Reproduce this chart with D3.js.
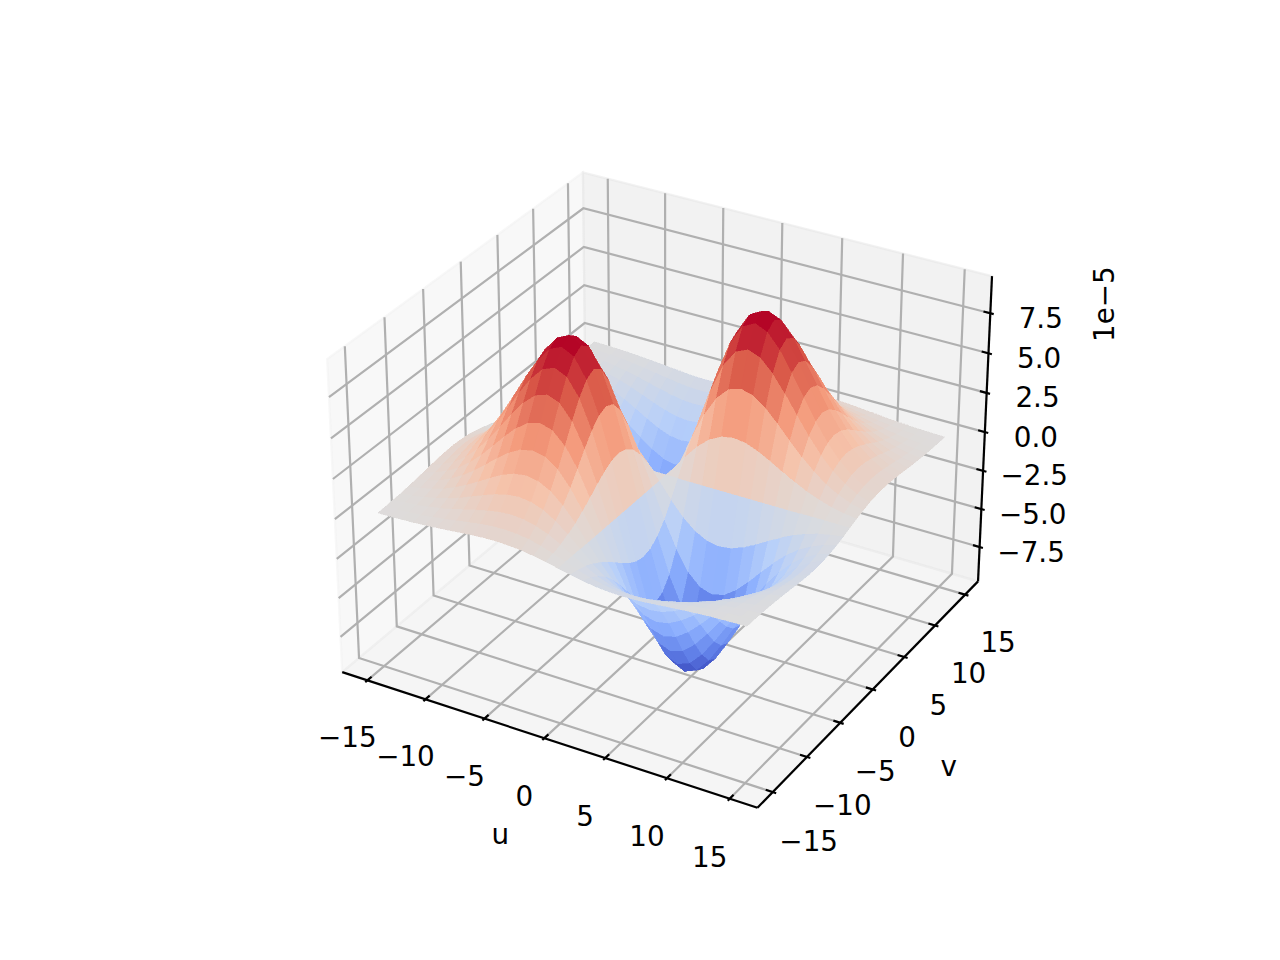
<!DOCTYPE html>
<html>
<head>
<meta charset="utf-8">
<script src="https://cdn.jsdelivr.net/npm/d3@7"></script>
<style>
  html, body { margin: 0; background: #fff; }
  text { font-family: "DejaVu Sans"; font-size: 27.8px; fill: #000; }
</style>
</head>
<body>
<div id="container"></div>
<script>
// grid of the surface
const uValues = [-15,-14,-13,-12,-11,-10,-9,-8,-7,-6,-5,-4,-3,-2,-1,0,1,2,3,4,5,6,7,8,9,10,11,12,13,14,15];
const vValues = [-15,-14,-13,-12,-11,-10,-9,-8,-7,-6,-5,-4,-3,-2,-1,0,1,2,3,4,5,6,7,8,9,10,11,12,13,14,15];

// surface height in units of 1e-5, one row per v, one column per u
const zValues = [
[.03,.05,.08,.11,.17,.23,.30,.38,.45,.50,.52,.49,.43,.31,.17,0,-.17,-.31,-.43,-.49,-.52,-.50,-.45,-.38,-.30,-.23,-.17,-.11,-.08,-.05,-.03],
[.05,.08,.13,.19,.28,.38,.51,.63,.75,.83,.86,.82,.71,.52,.28,0,-.28,-.52,-.71,-.82,-.86,-.83,-.75,-.63,-.51,-.38,-.28,-.19,-.13,-.08,-.05],
[.08,.13,.20,.31,.44,.61,.81,1.01,1.19,1.32,1.37,1.31,1.13,.84,.44,0,-.44,-.84,-1.13,-1.31,-1.37,-1.32,-1.19,-1.01,-.81,-.61,-.44,-.31,-.20,-.13,-.08],
[.11,.19,.31,.46,.67,.93,1.23,1.53,1.81,2.01,2.09,2.00,1.73,1.27,.68,0,-.68,-1.27,-1.73,-2.00,-2.09,-2.01,-1.81,-1.53,-1.23,-.93,-.67,-.46,-.31,-.19,-.11],
[.17,.28,.44,.67,.98,1.35,1.78,2.22,2.63,2.92,3.03,2.90,2.51,1.85,.98,0,-.98,-1.85,-2.51,-2.90,-3.03,-2.92,-2.63,-2.22,-1.78,-1.35,-.98,-.67,-.44,-.28,-.17],
[.23,.38,.61,.93,1.35,1.87,2.46,3.08,3.63,4.04,4.20,4.02,3.47,2.55,1.36,0,-1.36,-2.55,-3.47,-4.02,-4.20,-4.04,-3.63,-3.08,-2.46,-1.87,-1.35,-.93,-.61,-.38,-.23],
[.30,.51,.81,1.23,1.78,2.46,3.24,4.05,4.78,5.32,5.52,5.29,4.56,3.36,1.78,0,-1.78,-3.36,-4.56,-5.29,-5.52,-5.32,-4.78,-4.05,-3.24,-2.46,-1.78,-1.23,-.81,-.51,-.30],
[.38,.63,1.01,1.53,2.22,3.08,4.05,5.06,5.97,6.64,6.89,6.60,5.70,4.20,2.23,0,-2.23,-4.20,-5.70,-6.60,-6.89,-6.64,-5.97,-5.06,-4.05,-3.08,-2.22,-1.53,-1.01,-.63,-.38],
[.45,.75,1.19,1.81,2.63,3.63,4.78,5.97,7.05,7.84,8.14,7.80,6.73,4.96,2.63,0,-2.63,-4.96,-6.73,-7.80,-8.14,-7.84,-7.05,-5.97,-4.78,-3.63,-2.63,-1.81,-1.19,-.75,-.45],
[.50,.83,1.32,2.01,2.92,4.04,5.32,6.64,7.84,8.72,9.05,8.67,7.48,5.51,2.93,0,-2.93,-5.51,-7.48,-8.67,-9.05,-8.72,-7.84,-6.64,-5.32,-4.04,-2.92,-2.01,-1.32,-.83,-.50],
[.52,.86,1.37,2.09,3.03,4.20,5.52,6.89,8.14,9.05,9.40,9.00,7.77,5.72,3.04,0,-3.04,-5.72,-7.77,-9.00,-9.40,-9.05,-8.14,-6.89,-5.52,-4.20,-3.03,-2.09,-1.37,-.86,-.52],
[.49,.82,1.31,2.00,2.90,4.02,5.29,6.60,7.80,8.67,9.00,8.62,7.44,5.48,2.91,0,-2.91,-5.48,-7.44,-8.62,-9.00,-8.67,-7.80,-6.60,-5.29,-4.02,-2.90,-2.00,-1.31,-.82,-.49],
[.43,.71,1.13,1.73,2.51,3.47,4.56,5.70,6.73,7.48,7.77,7.44,6.42,4.73,2.51,0,-2.51,-4.73,-6.42,-7.44,-7.77,-7.48,-6.73,-5.70,-4.56,-3.47,-2.51,-1.73,-1.13,-.71,-.43],
[.31,.52,.84,1.27,1.85,2.55,3.36,4.20,4.96,5.51,5.72,5.48,4.73,3.48,1.85,0,-1.85,-3.48,-4.73,-5.48,-5.72,-5.51,-4.96,-4.20,-3.36,-2.55,-1.85,-1.27,-.84,-.52,-.31],
[.17,.28,.44,.68,.98,1.36,1.78,2.23,2.63,2.93,3.04,2.91,2.51,1.85,.98,0,-.98,-1.85,-2.51,-2.91,-3.04,-2.93,-2.63,-2.23,-1.78,-1.36,-.98,-.68,-.44,-.28,-.17],
[0,0,0,0,0,0,0,0,0,0,0,0,0,0,0,0,0,0,0,0,0,0,0,0,0,0,0,0,0,0,0],
[-.17,-.28,-.44,-.68,-.98,-1.36,-1.78,-2.23,-2.63,-2.93,-3.04,-2.91,-2.51,-1.85,-.98,0,.98,1.85,2.51,2.91,3.04,2.93,2.63,2.23,1.78,1.36,.98,.68,.44,.28,.17],
[-.31,-.52,-.84,-1.27,-1.85,-2.55,-3.36,-4.20,-4.96,-5.51,-5.72,-5.48,-4.73,-3.48,-1.85,0,1.85,3.48,4.73,5.48,5.72,5.51,4.96,4.20,3.36,2.55,1.85,1.27,.84,.52,.31],
[-.43,-.71,-1.13,-1.73,-2.51,-3.47,-4.56,-5.70,-6.73,-7.48,-7.77,-7.44,-6.42,-4.73,-2.51,0,2.51,4.73,6.42,7.44,7.77,7.48,6.73,5.70,4.56,3.47,2.51,1.73,1.13,.71,.43],
[-.49,-.82,-1.31,-2.00,-2.90,-4.02,-5.29,-6.60,-7.80,-8.67,-9.00,-8.62,-7.44,-5.48,-2.91,0,2.91,5.48,7.44,8.62,9.00,8.67,7.80,6.60,5.29,4.02,2.90,2.00,1.31,.82,.49],
[-.52,-.86,-1.37,-2.09,-3.03,-4.20,-5.52,-6.89,-8.14,-9.05,-9.40,-9.00,-7.77,-5.72,-3.04,0,3.04,5.72,7.77,9.00,9.40,9.05,8.14,6.89,5.52,4.20,3.03,2.09,1.37,.86,.52],
[-.50,-.83,-1.32,-2.01,-2.92,-4.04,-5.32,-6.64,-7.84,-8.72,-9.05,-8.67,-7.48,-5.51,-2.93,0,2.93,5.51,7.48,8.67,9.05,8.72,7.84,6.64,5.32,4.04,2.92,2.01,1.32,.83,.50],
[-.45,-.75,-1.19,-1.81,-2.63,-3.63,-4.78,-5.97,-7.05,-7.84,-8.14,-7.80,-6.73,-4.96,-2.63,0,2.63,4.96,6.73,7.80,8.14,7.84,7.05,5.97,4.78,3.63,2.63,1.81,1.19,.75,.45],
[-.38,-.63,-1.01,-1.53,-2.22,-3.08,-4.05,-5.06,-5.97,-6.64,-6.89,-6.60,-5.70,-4.20,-2.23,0,2.23,4.20,5.70,6.60,6.89,6.64,5.97,5.06,4.05,3.08,2.22,1.53,1.01,.63,.38],
[-.30,-.51,-.81,-1.23,-1.78,-2.46,-3.24,-4.05,-4.78,-5.32,-5.52,-5.29,-4.56,-3.36,-1.78,0,1.78,3.36,4.56,5.29,5.52,5.32,4.78,4.05,3.24,2.46,1.78,1.23,.81,.51,.30],
[-.23,-.38,-.61,-.93,-1.35,-1.87,-2.46,-3.08,-3.63,-4.04,-4.20,-4.02,-3.47,-2.55,-1.36,0,1.36,2.55,3.47,4.02,4.20,4.04,3.63,3.08,2.46,1.87,1.35,.93,.61,.38,.23],
[-.17,-.28,-.44,-.67,-.98,-1.35,-1.78,-2.22,-2.63,-2.92,-3.03,-2.90,-2.51,-1.85,-.98,0,.98,1.85,2.51,2.90,3.03,2.92,2.63,2.22,1.78,1.35,.98,.67,.44,.28,.17],
[-.11,-.19,-.31,-.46,-.67,-.93,-1.23,-1.53,-1.81,-2.01,-2.09,-2.00,-1.73,-1.27,-.68,0,.68,1.27,1.73,2.00,2.09,2.01,1.81,1.53,1.23,.93,.67,.46,.31,.19,.11],
[-.08,-.13,-.20,-.31,-.44,-.61,-.81,-1.01,-1.19,-1.32,-1.37,-1.31,-1.13,-.84,-.44,0,.44,.84,1.13,1.31,1.37,1.32,1.19,1.01,.81,.61,.44,.31,.20,.13,.08],
[-.05,-.08,-.13,-.19,-.28,-.38,-.51,-.63,-.75,-.83,-.86,-.82,-.71,-.52,-.28,0,.28,.52,.71,.82,.86,.83,.75,.63,.51,.38,.28,.19,.13,.08,.05],
[-.03,-.05,-.08,-.11,-.17,-.23,-.30,-.38,-.45,-.50,-.52,-.49,-.43,-.31,-.17,0,.17,.31,.43,.49,.52,.50,.45,.38,.30,.23,.17,.11,.08,.05,.03]
];

const uTicks = [-15,-10,-5,0,5,10,15];
const vTicks = [-15,-10,-5,0,5,10,15];
const zTicks = [-7.5,-5,-2.5,0,2.5,5,7.5];

const coolwarmStops = [0,.125,.25,.375,.5,.625,.75,.875,1];
const coolwarmColors = ['#3b4cc0','#6282ea','#8db0fe','#b8d0f9','#dddcdc','#f5c4ac','#f49a7b','#d95847','#b40426'];

const width = 1280;
const height = 960;

// axis limits, the panes sit 1/48 of the range outside them
const uLim = [-16.5, 16.5];
const vLim = [-16.5, 16.5];
const zLim = [-9.4, 9.4];
const boxAspect = [1.14286, 1.14286, 0.85714];

const scaleU = d3.scaleLinear().domain(uLim).range([0, boxAspect[0]]);
const scaleV = d3.scaleLinear().domain(vLim).range([0, boxAspect[1]]);
const scaleZ = d3.scaleLinear().domain(zLim).range([0, boxAspect[2]]);

const uPad = (uLim[1] - uLim[0]) / 48;
const vPad = (vLim[1] - vLim[0]) / 48;
const zPad = (zLim[1] - zLim[0]) / 48;
const uMin = uLim[0] - uPad, uMax = uLim[1] + uPad;
const vMin = vLim[0] - vPad, vMax = vLim[1] + vPad;
const zMin = zLim[0] - zPad, zMax = zLim[1] + zPad;

// camera, elevation 30 and azimuth -60, as a default mplot3d view
const elev = 30 * Math.PI / 180;
const azim = -60 * Math.PI / 180;
const dist = 10;
const center = boxAspect.map(d => d / 2);
const w = [Math.cos(elev) * Math.cos(azim), Math.cos(elev) * Math.sin(azim), Math.sin(elev)];
const eye = center.map((d, i) => d + dist * w[i]);
const cross = (a, b) => [a[1]*b[2]-a[2]*b[1], a[2]*b[0]-a[0]*b[2], a[0]*b[1]-a[1]*b[0]];
const dot = (a, b) => a[0]*b[0] + a[1]*b[1] + a[2]*b[2];
const r0 = cross([0, 0, 1], w);
const rLen = Math.sqrt(dot(r0, r0));
const right = r0.map(d => d / rLen);
const up = cross(w, right);

const screenX = d3.scaleLinear().domain([-0.095, 0.09]).range([286.4, 1025.6]);
const screenY = d3.scaleLinear().domain([-0.095, 0.09]).range([854.4, 115.2]);

function view(u, v, z) {
  const p = [scaleU(u) - eye[0], scaleV(v) - eye[1], scaleZ(z) - eye[2]];
  return [dot(p, right), dot(p, up), dot(p, w)];
}

function project(u, v, z) {
  const c = view(u, v, z);
  return [screenX(c[0] / -c[2]), screenY(c[1] / -c[2])];
}

const svg = d3.select('#container').append('svg')
  .attr('width', width)
  .attr('height', height);

const line = d3.line();
const panes = svg.append('g');
const grid = svg.append('g');
const axes = svg.append('g');
const surface = svg.append('g');
const labels = svg.append('g');

// back panes
const paneList = [
  { fill: 'rgb(242,242,242)', pts: [[uMin,vMin,zMin],[uMin,vMax,zMin],[uMin,vMax,zMax],[uMin,vMin,zMax]] },
  { fill: 'rgb(230,230,230)', pts: [[uMin,vMax,zMin],[uMax,vMax,zMin],[uMax,vMax,zMax],[uMin,vMax,zMax]] },
  { fill: 'rgb(236,236,236)', pts: [[uMin,vMin,zMin],[uMax,vMin,zMin],[uMax,vMax,zMin],[uMin,vMax,zMin]] }
];
panes.selectAll('path')
  .data(paneList)
  .enter()
  .append('path')
  .attr('d', d => line(d.pts.map(p => project(p[0], p[1], p[2]))) + 'Z')
  .attr('fill', d => d.fill)
  .attr('fill-opacity', 0.5)
  .attr('stroke', d => d.fill)
  .attr('stroke-opacity', 0.5)
  .attr('stroke-width', 2.2);

// grid lines run over the floor and up a wall
function gridLine(pts) {
  grid.append('path')
    .attr('d', line(pts.map(p => project(p[0], p[1], p[2]))))
    .attr('fill', 'none')
    .attr('stroke', '#b0b0b0')
    .attr('stroke-width', 2.2);
}
uTicks.forEach(u => gridLine([[u,vMin,zMin],[u,vMax,zMin],[u,vMax,zMax]]));
vTicks.forEach(v => gridLine([[uMax,v,zMin],[uMin,v,zMin],[uMin,v,zMax]]));
zTicks.forEach(z => gridLine([[uMin,vMin,z],[uMin,vMax,z],[uMax,vMax,z]]));

// axis lines and ticks
function axisLine(a, b) {
  axes.append('path')
    .attr('d', line([project(a[0], a[1], a[2]), project(b[0], b[1], b[2])]))
    .attr('fill', 'none')
    .attr('stroke', '#000')
    .attr('stroke-width', 2.2);
}
axisLine([uMin,vMin,zMin], [uMax,vMin,zMin]);
axisLine([uMax,vMin,zMin], [uMax,vMax,zMin]);
axisLine([uMax,vMax,zMin], [uMax,vMax,zMax]);

const uDelta = (uLim[1] - uLim[0]) / 12;
const vDelta = (vLim[1] - vLim[0]) / 12;

function label(pos, txt, dx, dy) {
  labels.append('text')
    .attr('x', pos[0] + dx)
    .attr('y', pos[1] + dy)
    .attr('text-anchor', 'middle')
    .attr('dominant-baseline', 'central')
    .text(txt);
}
const tickText = d => String(d).replace('-', '\u2212');

uTicks.forEach(u => {
  axisLine([u, vMin + 0.2 * vDelta, zMin], [u, vMin - 0.1 * vDelta, zMin]);
  label(project(u, vMin, zMin), tickText(u), -20, 58 + u / 15);
});
vTicks.forEach(v => {
  axisLine([uMax - 0.2 * uDelta, v, zMin], [uMax + 0.1 * uDelta, v, zMin]);
  label(project(uMax, v, zMin), tickText(v), 34.5 - v / 10, 48.5 - v / 30);
});
zTicks.forEach(z => {
  axisLine([uMax - 0.2 * uDelta, vMax, z], [uMax + 0.1 * uDelta, vMax, z]);
  label(project(uMax, vMax, z), tickText(z.toFixed(1)), 51 - z / 15, 5);
});

const uMid = project(0, vMin, zMin);
const vMid = project(uMax, 0, zMin);
label(uMid, 'u', -44, 96);
label(vMid, 'v', 76, 77);

const topCorner = project(uMax, vMax, zMax);
labels.append('text')
  .attr('transform', `translate(${topCorner[0] + 112},${topCorner[1] + 28}) rotate(-90)`)
  .attr('text-anchor', 'middle')
  .attr('dominant-baseline', 'central')
  .text('1e\u22125');

// surface facets, far ones first
const facets = [];
for (let j = 0; j < vValues.length - 1; j++) {
  for (let i = 0; i < uValues.length - 1; i++) {
    const corners = [[i,j],[i+1,j],[i+1,j+1],[i,j+1]].map(c => [uValues[c[0]], vValues[c[1]], zValues[c[1]][c[0]]]);
    facets.push({
      corners: corners,
      mean: d3.mean(corners, c => c[2]),
      depth: d3.mean(corners, c => view(c[0], c[1], c[2])[2])
    });
  }
}
facets.sort((a, b) => d3.ascending(a.depth, b.depth));

const norm = d3.scaleLinear().domain(d3.extent(facets, d => d.mean)).range([0, 1]);
const coolwarm = d3.scaleLinear().domain(coolwarmStops).range(coolwarmColors);

surface.selectAll('path')
  .data(facets)
  .enter()
  .append('path')
  .attr('d', d => line(d.corners.map(c => project(c[0], c[1], c[2]))) + 'Z')
  .attr('fill', d => coolwarm(norm(d.mean)))
  .attr('stroke', d => coolwarm(norm(d.mean)))
  .attr('stroke-width', 0.4)
  .attr('shape-rendering', 'crispEdges');
</script>
</body>
</html>
